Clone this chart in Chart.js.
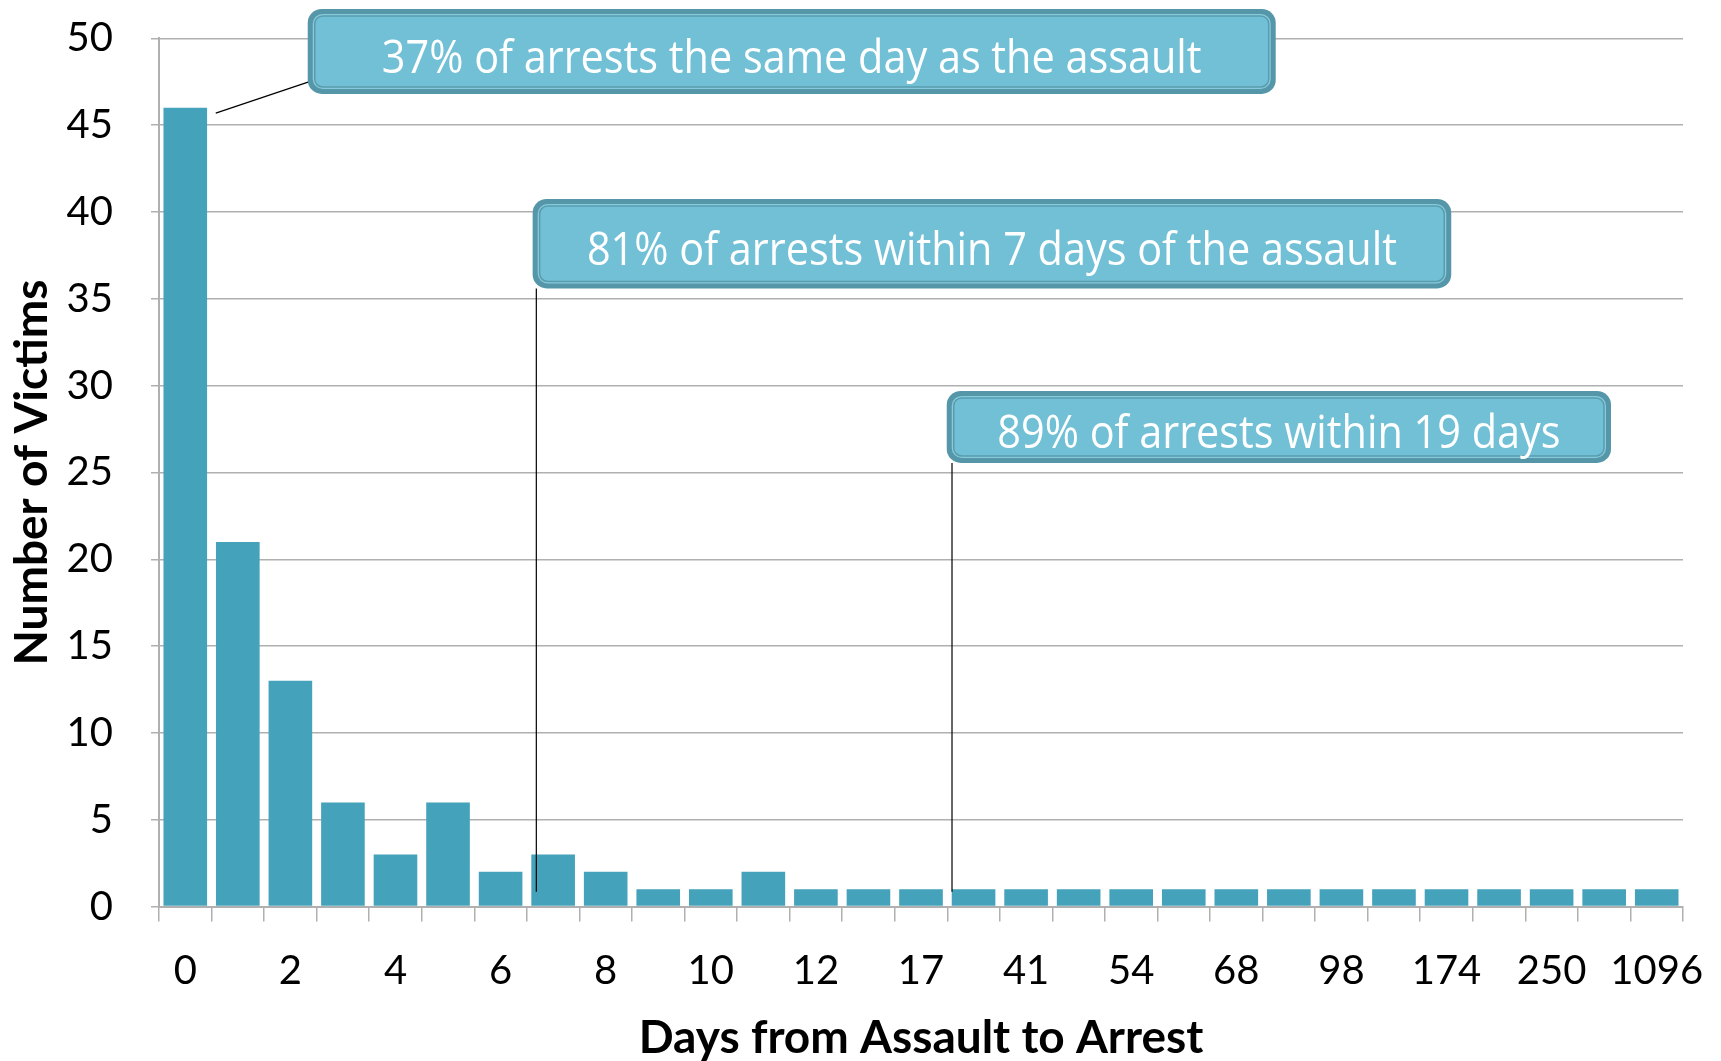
<!DOCTYPE html>
<html>
<head>
<meta charset="utf-8">
<script src="https://cdn.jsdelivr.net/npm/chart.js@4"></script>
<style>
  html, body { margin: 0; padding: 0; background: #fff; }
  #wrap { width: 1721px; height: 1061px; }
</style>
</head>
<body>
<div id="wrap"><canvas id="arrestChart" width="1721" height="1061"></canvas></div>
<script>
// ===================== data =====================
// days from assault to arrest (only every other one is printed on the axis)
const dayLabels = ['0', '1', '2', '3', '4', '5', '6', '7', '8', '9', '10', '11', '12', '14',
  '17', '19', '41', '47', '54', '60', '68', '83', '98', '120', '174', '200', '250', '365', '1096'];
const victimCounts = [46, 21, 13, 6, 3, 6, 2, 3, 2, 1, 1, 2, 1, 1,
  1, 1, 1, 1, 1, 1, 1, 1, 1, 1, 1, 1, 1, 1, 1];
const yTicks = [0, 5, 10, 15, 20, 25, 30, 35, 40, 45, 50];

const calloutTexts = [
  '37% of arrests the same day as the assault',
  '81% of arrests within 7 days of the assault',
  '89% of arrests within 19 days'
];

// ===================== callouts (placed in axis units) =====================
const calloutBoxes = [
  { x1: 2.33, x2: 20.75, y1: 51.7, y2: 46.8, line: [0.58, 45.7, 2.35, 47.5] },
  { x1: 6.61, x2: 24.09, y1: 40.75, y2: 35.6, line: [6.68, 35.6, 6.68, 0.85] },
  { x1: 14.49, x2: 27.13, y1: 29.7, y2: 25.55, line: [14.59, 25.55, 14.59, 0.85] }
];

function drawCallout(ctx, l, t, r, b, text) {
  ctx.save();
  ctx.beginPath();
  ctx.roundRect(l, t, r - l, b - t, 14);
  ctx.fillStyle = '#5597a9';
  ctx.fill();
  ctx.beginPath();
  ctx.roundRect(l + 5, t + 5, r - l - 10, b - t - 10, 10);
  ctx.fillStyle = '#86cbdd';
  ctx.fill();
  ctx.beginPath();
  ctx.roundRect(l + 7, t + 7, r - l - 14, b - t - 14, 8);
  ctx.fillStyle = '#71c0d6';
  ctx.fill();
  ctx.lineWidth = 1.5;
  ctx.strokeStyle = '#5a9cae';
  ctx.stroke();

  ctx.fillStyle = '#ffffff';
  ctx.font = '46px "Open Sans"';
  ctx.textAlign = 'center';
  ctx.textBaseline = 'middle';
  ctx.translate((l + r) / 2, (t + b) / 2 + 8);
  ctx.scale(0.9, 1);
  ctx.fillText(text, 0, 0);
  ctx.restore();
}

const calloutPlugin = {
  id: 'callouts',
  afterDraw(chart) {
    const { ctx } = chart;
    const x = chart.scales.x;
    const y = chart.scales.y;
    calloutBoxes.forEach((c, i) => {
      const [lx1, ly1, lx2, ly2] = c.line;
      ctx.save();
      ctx.beginPath();
      ctx.moveTo(x.getPixelForValue(lx1), y.getPixelForValue(ly1));
      ctx.lineTo(x.getPixelForValue(lx2), y.getPixelForValue(ly2));
      ctx.lineWidth = 1.2;
      ctx.strokeStyle = '#000';
      ctx.stroke();
      ctx.restore();
      drawCallout(ctx,
        x.getPixelForValue(c.x1), y.getPixelForValue(c.y1),
        x.getPixelForValue(c.x2), y.getPixelForValue(c.y2),
        calloutTexts[i]);
    });
  }
};

// ===================== chart =====================
const gridGray = '#b0b0b0';
const axisFont = { family: 'Lato', size: 40 };
const titleFont = { family: 'Lato', size: 46, weight: 'bold' };

// keep the plot area where the layout padding puts it
function noScalePadding(s) {
  s.paddingTop = 0;
  s.paddingBottom = 0;
  s.paddingLeft = 0;
  s.paddingRight = 0;
}

document.addEventListener('DOMContentLoaded', () => {
  const ctx = document.getElementById('arrestChart').getContext('2d');
  new Chart(ctx, {
    type: 'bar',
    data: {
      labels: dayLabels,
      datasets: [{
        label: 'Number of Victims',
        data: victimCounts,
        backgroundColor: '#44a2bb',
        borderWidth: 0,
        barPercentage: 0.83,
        categoryPercentage: 1.0
      }]
    },
    options: {
      responsive: false,
      animation: false,
      layout: { padding: { top: 38.4, right: 38, left: 5, bottom: 0 } },
      plugins: {
        legend: { display: false },
        tooltip: { enabled: false }
      },
      scales: {
        x: {
          offset: true,
          grid: {
            offset: true,
            drawOnChartArea: false,
            drawTicks: true,
            tickLength: 15,
            color: gridGray,
            lineWidth: 1.5
          },
          border: { color: gridGray, width: 2 },
          ticks: {
            autoSkip: false,
            maxRotation: 0,
            padding: 25,
            color: '#000',
            font: axisFont,
            callback: (val, i) => (i % 2 === 0 ? dayLabels[i] : '')
          },
          title: {
            display: true,
            text: 'Days from Assault to Arrest',
            color: '#000',
            font: titleFont,
            padding: { top: 0, bottom: -5 }
          },
          afterFit: s => { s.height = 154.4; noScalePadding(s); }
        },
        y: {
          min: 0,
          max: 50,
          afterBuildTicks: s => { s.ticks = yTicks.map(v => ({ value: v })); },
          grid: {
            color: gridGray,
            lineWidth: 1.5,
            tickLength: 8
          },
          border: { color: gridGray, width: 2 },
          ticks: {
            padding: 38,
            color: '#000',
            font: axisFont
          },
          title: {
            display: true,
            text: 'Number of Victims',
            color: '#000',
            font: titleFont,
            padding: 0
          },
          afterFit: s => { s.width = 154; noScalePadding(s); }
        }
      }
    },
    plugins: [calloutPlugin]
  });
});
</script>
</body>
</html>
